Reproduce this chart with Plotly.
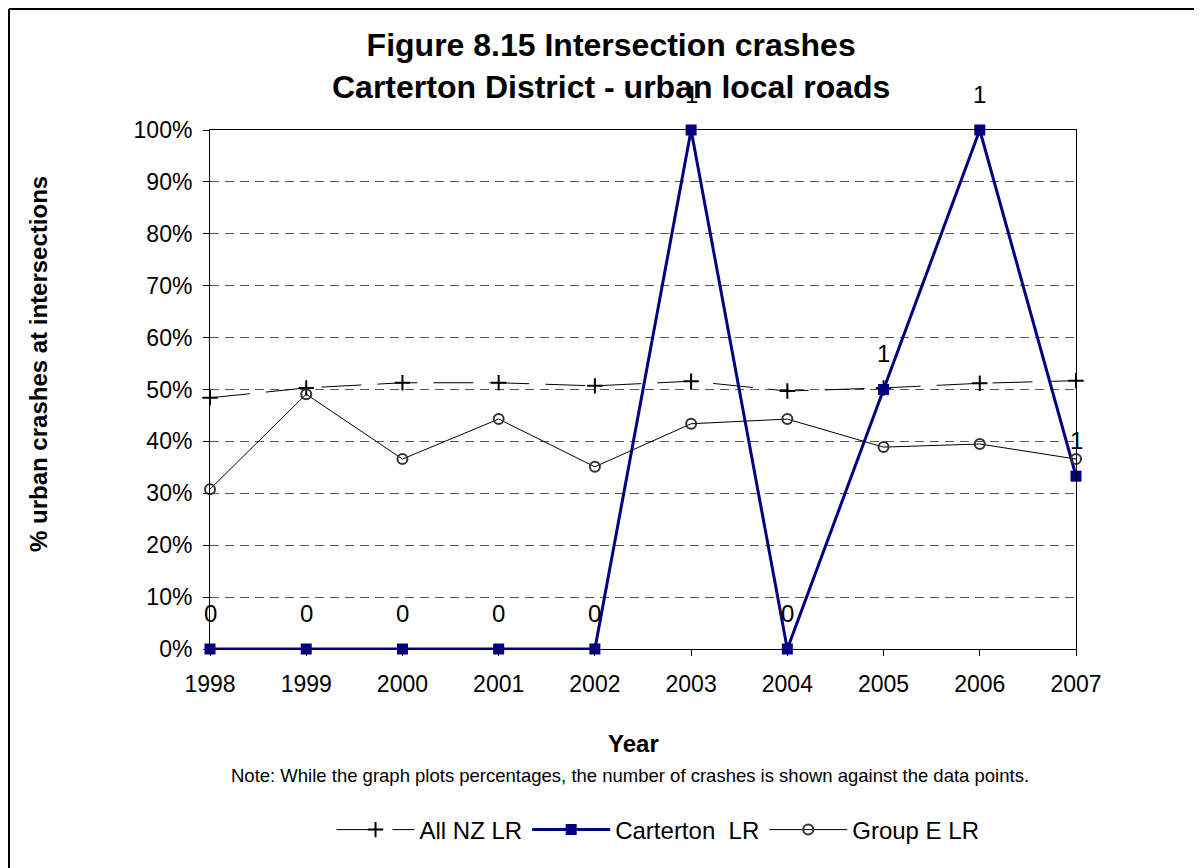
import plotly.graph_objects as go

years = [1998, 1999, 2000, 2001, 2002, 2003, 2004, 2005, 2006, 2007]
all_nz_lr = [0.484, 0.503, 0.513, 0.513, 0.507, 0.516, 0.497, 0.503, 0.512, 0.517]
carterton_lr = [0.0, 0.0, 0.0, 0.0, 0.0, 1.0, 0.0, 0.5, 1.0, 0.333]
group_e_lr = [0.308, 0.491, 0.366, 0.443, 0.351, 0.434, 0.443, 0.389, 0.395, 0.366]
crash_counts = [0, 0, 0, 0, 0, 1, 0, 1, 1, 1]
y_ticks = [0.0, 0.1, 0.2, 0.3, 0.4, 0.5, 0.6, 0.7, 0.8, 0.9, 1.0]

FONT = "Liberation Sans, Arial, sans-serif"

# plot area in page pixels (page body has an 8px margin)
PL, PR, PT, PB = 210, 1076, 130, 649
PW, PH = PR - PL, PB - PT


def px(x):
    return (x - PL) / PW


def py(y):
    return (PB - y) / PH


fig = go.Figure()
fig.add_trace(go.Scatter(
    x=years, y=all_nz_lr, name="All NZ LR", mode="lines+markers",
    line=dict(color="black", width=1, dash="40px,16px"),
    marker=dict(symbol="cross-thin", size=11, line=dict(color="black", width=2)),
    cliponaxis=False,
))
fig.add_trace(go.Scatter(
    x=years, y=carterton_lr, name="Carterton  LR", mode="lines+markers",
    line=dict(color="#000080", width=3),
    marker=dict(symbol="square", size=11, color="#000080"),
    cliponaxis=False,
))
fig.add_trace(go.Scatter(
    x=years, y=group_e_lr, name="Group E LR", mode="lines+markers",
    line=dict(color="black", width=1),
    marker=dict(symbol="circle-open", size=10, color="#333333", line=dict(width=2)),
    cliponaxis=False,
))

annotations = []
for yr, v, c in zip(years, carterton_lr, crash_counts):
    annotations.append(dict(x=yr, y=v, xref="x", yref="y", text=str(c), showarrow=False,
                            yshift=36, font=dict(size=24, color="black", family=FONT)))

annotations += [
    dict(text="<b>Figure 8.15 Intersection crashes<br>Carterton District - urban local roads</b>",
         x=px(611), y=py(66), xref="paper", yref="paper",
         xanchor="center", yanchor="middle", showarrow=False,
         font=dict(size=32, color="black", family=FONT)),
    dict(text="<b>% urban crashes at intersections</b>", textangle=-90,
         x=px(38), y=py(364), xref="paper", yref="paper",
         xanchor="center", yanchor="middle", showarrow=False,
         font=dict(size=24, color="black", family=FONT)),
    dict(text="<b>Year</b>", x=px(633), y=py(743),
         xref="paper", yref="paper", xanchor="center", yanchor="middle", showarrow=False,
         font=dict(size=24, color="black", family=FONT)),
    dict(text="Note: While the graph plots percentages, the number of crashes is shown against the data points.",
         x=px(630), y=py(775),
         xref="paper", yref="paper", xanchor="center", yanchor="middle", showarrow=False,
         font=dict(size=18.5, color="black", family=FONT)),
]

shapes = [
    dict(type="line", xref="paper", yref="paper", x0=px(9), x1=px(9),
         y0=py(9), y1=py(900), line=dict(color="black", width=2)),
    dict(type="line", xref="paper", yref="paper", x0=px(9), x1=px(1300),
         y0=py(9), y1=py(9), line=dict(color="black", width=2)),
]

fig.update_layout(
    width=1202, height=868,
    margin=dict(l=PL - 8, r=1202 - (PR - 8), t=PT - 8, b=868 - (PB - 8)),
    paper_bgcolor="white", plot_bgcolor="white",
    font=dict(family=FONT, color="black", size=23),
    showlegend=True,
    legend=dict(orientation="h", x=px(658), y=py(830),
                xanchor="center", yanchor="middle", font=dict(size=24),
                itemwidth=78, bgcolor="rgba(0,0,0,0)"),
    annotations=annotations,
    shapes=shapes,
)
fig.update_xaxes(range=[1998, 2007], tickvals=years, ticktext=[str(y) for y in years],
                 showline=True, linecolor="black", linewidth=1, mirror=True,
                 ticks="outside", ticklen=6, tickcolor="black", showgrid=False,
                 zeroline=False, tickfont=dict(size=23), ticklabelstandoff=8)
fig.update_yaxes(range=[0, 1], tickvals=y_ticks, tickformat=".0%",
                 showline=True, linecolor="black", linewidth=1, mirror=True,
                 ticks="outside", ticklen=6, tickcolor="black",
                 showgrid=True, gridcolor="#555555", gridwidth=1, griddash="9px,6px",
                 zeroline=False, tickfont=dict(size=23), ticklabelstandoff=6)

fig.write_html("out.html")
